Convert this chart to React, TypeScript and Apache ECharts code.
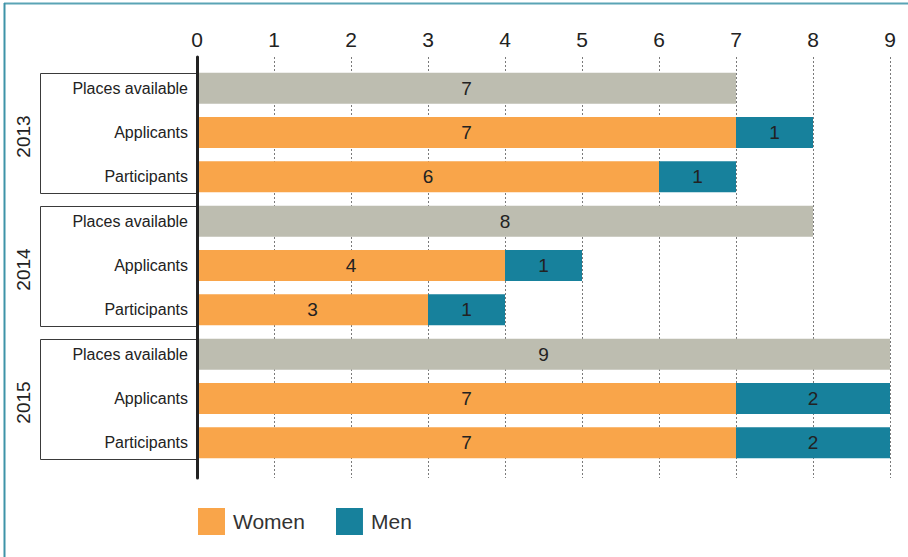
import React, { useEffect, useRef } from "react";
import * as echarts from "echarts";

const years = ["2013", "2014", "2015"];
const measures = ["Places available", "Applicants", "Participants"];
const placesAvailable = [7, 8, 9];
const womenApplicants = [7, 4, 7];
const menApplicants = [1, 1, 2];
const womenParticipants = [6, 3, 7];
const menParticipants = [1, 1, 2];
const xMin = 0;
const xMax = 9;
const xInterval = 1;

const GREY = "#BDBDB0";
const ORANGE = "#F9A54A";
const TEAL = "#17819C";
const SANS = "Arial, Liberation Sans, Helvetica, sans-serif";

export default function App() {
  const ref = useRef<HTMLDivElement>(null);
  useEffect(() => {
    if (!ref.current) return;
    const rows: string[] = [];
    const placesData: any[] = [];
    const womenData: any[] = [];
    const menData: any[] = [];
    years.forEach((_, i) => {
      rows.push(...measures);
      placesData.push(placesAvailable[i], "-", "-");
      womenData.push("-", womenApplicants[i], womenParticipants[i]);
      menData.push("-", menApplicants[i], menParticipants[i]);
    });
    const barW = 31;
    const label = { show: true, position: "inside", fontSize: 19, color: "#222", fontFamily: SANS };
    const chart = echarts.init(ref.current, null, { renderer: "svg" });
    chart.setOption({
      animation: false,
      backgroundColor: "#fff",
      grid: [
        { left: 197, right: 18, top: 57, height: 421 },
        { left: 197, right: 18, top: 66, height: 399 },
      ],
      xAxis: [
        {
          gridIndex: 0,
          type: "value",
          position: "top",
          min: xMin,
          max: xMax,
          interval: xInterval,
          axisLine: { show: false },
          axisTick: { show: false },
          axisLabel: { fontSize: 21, color: "#222", margin: 7, fontFamily: SANS },
          splitLine: { show: true, lineStyle: { color: "#7a7a7a", width: 1, type: [2, 2] } },
        },
        {
          gridIndex: 1,
          type: "value",
          min: xMin,
          max: xMax,
          interval: xInterval,
          show: false,
          splitLine: { show: false },
        },
      ],
      yAxis: [
        {
          gridIndex: 0,
          type: "value",
          min: 0,
          max: 1,
          z: 10,
          axisLine: { show: true, lineStyle: { color: "#222", width: 3 } },
          axisTick: { show: false },
          axisLabel: { show: false },
          splitLine: { show: false },
        },
        {
          gridIndex: 1,
          type: "category",
          inverse: true,
          data: rows,
          axisLine: { show: false },
          axisTick: { show: false },
          axisLabel: {
            margin: 9,
            fontSize: 16,
            color: "#222",
            fontFamily: SANS,
            padding: [6, 0, 0, 0],
          },
        },
      ],
      legend: {
        data: ["Women", "Men"],
        left: 193,
        top: 503,
        icon: "rect",
        itemWidth: 27,
        itemHeight: 27,
        itemGap: 31,
        textStyle: { fontSize: 21, color: "#333", fontFamily: SANS, padding: [0, 0, 0, 3] },
      },
      series: [
        {
          name: "Places available",
          type: "bar",
          stack: "s",
          xAxisIndex: 1,
          yAxisIndex: 1,
          barWidth: barW,
          data: placesData,
          itemStyle: { color: GREY },
          label,
        },
        {
          name: "Women",
          type: "bar",
          stack: "s",
          xAxisIndex: 1,
          yAxisIndex: 1,
          barWidth: barW,
          data: womenData,
          itemStyle: { color: ORANGE },
          label,
        },
        {
          name: "Men",
          type: "bar",
          stack: "s",
          xAxisIndex: 1,
          yAxisIndex: 1,
          barWidth: barW,
          data: menData,
          itemStyle: { color: TEAL },
          label,
        },
      ],
    });

    const x0 = chart.convertToPixel({ xAxisIndex: 1 }, xMin) as number;
    const graphics: any[] = [
      { type: "line", shape: { x1: 4, y1: 3.5, x2: 908, y2: 3.5 }, style: { stroke: "#5AA4B5", lineWidth: 2 } },
      { type: "line", shape: { x1: 4.5, y1: 3, x2: 4.5, y2: 557 }, style: { stroke: "#3E93A8", lineWidth: 2 } },
    ];
    years.forEach((yr, i) => {
      const yTop = (chart.convertToPixel({ yAxisIndex: 1 }, i * 3) as number) - barW / 2;
      const yBot = (chart.convertToPixel({ yAxisIndex: 1 }, i * 3 + 2) as number) + barW / 2;
      graphics.push({
        type: "rect",
        z: 1,
        shape: { x: 40.5, y: Math.round(yTop) + 0.5, width: x0 - 40.5, height: Math.round(yBot - yTop) },
        style: { fill: "none", stroke: "#3a3a3a", lineWidth: 1 },
      });
      graphics.push({
        type: "text",
        x: 23,
        y: (yTop + yBot) / 2 + 4,
        rotation: Math.PI / 2,
        style: {
          text: yr,
          fontSize: 19,
          fill: "#222",
          fontFamily: SANS,
          align: "center",
          verticalAlign: "middle",
        },
      });
    });
    chart.setOption({ graphic: graphics });
    return () => chart.dispose();
  }, []);
  return (
    <div
      ref={ref}
      style={{ position: "fixed", left: 0, top: 0, width: 908, height: 557 }}
    />
  );
}
